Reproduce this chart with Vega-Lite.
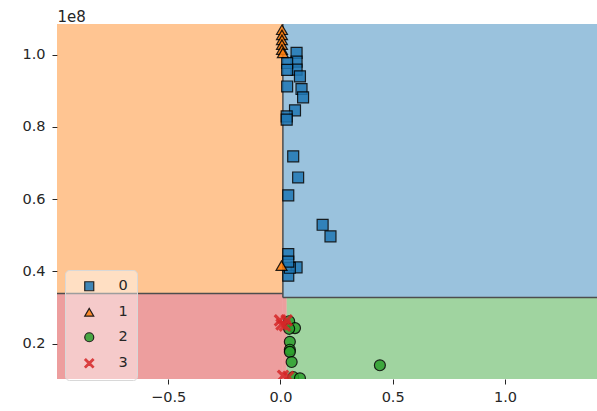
{
  "$schema": "https://vega.github.io/schema/vega-lite/v6.json",
  "width": 540,
  "height": 355,
  "autosize": {"type": "none"},
  "padding": {"left": 57, "top": 24, "right": 0, "bottom": 32},
  "config": {
    "view": {"stroke": null},
    "font": "DejaVu Sans",
    "axis": {"labelFont": "DejaVu Sans", "labelFontSize": 14.5, "labelColor": "#262626", "tickColor": "#262626", "tickSize": 5, "domain": false, "grid": false, "labelPadding": 6},
    "legend": {"orient": "none", "legendX": 8, "legendY": 246, "fillColor": "rgba(255,255,255,0.45)", "strokeColor": "#d8d8d8", "cornerRadius": 4, "padding": 9, "symbolOffset": 8, "labelOffset": 22, "rowPadding": 10, "symbolSize": 81, "symbolStrokeWidth": 1.2, "symbolOpacity": 0.85, "labelFont": "DejaVu Sans", "labelFontSize": 14.5, "labelColor": "#262626"}
  },
  "datasets": {
    "regions": [
      {"region": "1", "x1": -0.995, "x2": 0.011, "y1": 33900000, "y2": 108500000},
      {"region": "3", "x1": -0.995, "x2": 0.011, "y1": 10200000, "y2": 33900000},
      {"region": "3", "x1": 0.011, "x2": 0.028, "y1": 10200000, "y2": 32800000},
      {"region": "0", "x1": 0.011, "x2": 1.41, "y1": 32800000, "y2": 108500000},
      {"region": "2", "x1": 0.028, "x2": 1.41, "y1": 10200000, "y2": 32800000}
    ],
    "edges": [
      {"x1": 0.011, "x2": 0.011, "y1": 32800000, "y2": 108500000},
      {"x1": -0.995, "x2": 0.011, "y1": 33900000, "y2": 33900000},
      {"x1": 0.011, "x2": 1.41, "y1": 32800000, "y2": 32800000}
    ],
    "points": [
      {"x": 0.072, "y": 100500000, "class": "0"},
      {"x": 0.072, "y": 98100000, "class": "0"},
      {"x": 0.072, "y": 95850000, "class": "0"},
      {"x": 0.030, "y": 97700000, "class": "0"},
      {"x": 0.030, "y": 95800000, "class": "0"},
      {"x": 0.087, "y": 94000000, "class": "0"},
      {"x": 0.030, "y": 91200000, "class": "0"},
      {"x": 0.094, "y": 90500000, "class": "0"},
      {"x": 0.101, "y": 88200000, "class": "0"},
      {"x": 0.065, "y": 84600000, "class": "0"},
      {"x": 0.028, "y": 82900000, "class": "0"},
      {"x": 0.028, "y": 82000000, "class": "0"},
      {"x": 0.057, "y": 71850000, "class": "0"},
      {"x": 0.079, "y": 66000000, "class": "0"},
      {"x": 0.035, "y": 61050000, "class": "0"},
      {"x": 0.188, "y": 52900000, "class": "0"},
      {"x": 0.223, "y": 49700000, "class": "0"},
      {"x": 0.035, "y": 44800000, "class": "0"},
      {"x": 0.072, "y": 41100000, "class": "0"},
      {"x": 0.035, "y": 38800000, "class": "0"},
      {"x": 0.042, "y": 41000000, "class": "0"},
      {"x": 0.035, "y": 42700000, "class": "0"},
      {"x": 0.007, "y": 106900000, "class": "1"},
      {"x": 0.007, "y": 105500000, "class": "1"},
      {"x": 0.007, "y": 104100000, "class": "1"},
      {"x": 0.007, "y": 102800000, "class": "1"},
      {"x": 0.007, "y": 101400000, "class": "1"},
      {"x": 0.011, "y": 100500000, "class": "1"},
      {"x": 0.005, "y": 41600000, "class": "1"},
      {"x": 0.039, "y": 26200000, "class": "2"},
      {"x": 0.065, "y": 24300000, "class": "2"},
      {"x": 0.039, "y": 24100000, "class": "2"},
      {"x": 0.042, "y": 20500000, "class": "2"},
      {"x": 0.042, "y": 18300000, "class": "2"},
      {"x": 0.042, "y": 17700000, "class": "2"},
      {"x": 0.050, "y": 14900000, "class": "2"},
      {"x": 0.443, "y": 14000000, "class": "2"},
      {"x": 0.057, "y": 10700000, "class": "2"},
      {"x": 0.087, "y": 10400000, "class": "2"},
      {"x": -0.002, "y": 26450000, "class": "3"},
      {"x": 0.005, "y": 25300000, "class": "3"},
      {"x": 0.028, "y": 26450000, "class": "3"},
      {"x": 0.020, "y": 25000000, "class": "3"},
      {"x": 0.012, "y": 11100000, "class": "3"},
      {"x": 0.035, "y": 10800000, "class": "3"}
    ]
  },
  "layer": [
    {
      "data": {"name": "regions"},
      "mark": {"type": "rect", "opacity": 0.45},
      "encoding": {
        "x": {"field": "x1", "type": "quantitative", "scale": {"domain": [-0.995, 1.41], "nice": false, "zero": false}, "axis": {"values": [-0.5, 0, 0.5, 1.0], "format": ".1f", "title": null}},
        "x2": {"field": "x2"},
        "y": {"field": "y1", "type": "quantitative", "scale": {"domain": [10200000, 108500000], "nice": false, "zero": false}, "axis": {"values": [20000000, 40000000, 60000000, 80000000, 100000000], "labelExpr": "format(datum.value/1e8, '.1f')", "labelPadding": 7, "title": "1e8", "titleAngle": 0, "titleX": 0, "titleY": -3, "titleAlign": "left", "titleBaseline": "alphabetic", "titleFont": "DejaVu Sans", "titleFontSize": 15, "titleFontWeight": "normal", "titleColor": "#262626"}},
        "y2": {"field": "y2"},
        "color": {"field": "region", "type": "nominal", "scale": {"domain": ["0", "1", "2", "3"], "range": ["#1f77b4", "#ff7f0e", "#2ca02c", "#d62728"]}, "legend": null}
      }
    },
    {
      "data": {"name": "edges"},
      "mark": {"type": "rule", "color": "#4d4d4d", "strokeWidth": 1.5},
      "encoding": {
        "x": {"field": "x1", "type": "quantitative"},
        "x2": {"field": "x2"},
        "y": {"field": "y1", "type": "quantitative"},
        "y2": {"field": "y2"}
      }
    },
    {
      "data": {"name": "points"},
      "mark": {"type": "point", "filled": true, "size": 120, "strokeWidth": 1.2, "opacity": 0.85, "clip": true},
      "encoding": {
        "x": {"field": "x", "type": "quantitative"},
        "y": {"field": "y", "type": "quantitative"},
        "shape": {"field": "class", "type": "nominal", "title": null, "scale": {"domain": ["0", "1", "2", "3"], "range": ["square", "triangle-up", "circle", "M-1,-0.75L-0.75,-1L0,-0.25L0.75,-1L1,-0.75L0.25,0L1,0.75L0.75,1L0,0.25L-0.75,1L-1,0.75L-0.25,0Z"]}},
        "fill": {"field": "class", "type": "nominal", "title": null, "scale": {"domain": ["0", "1", "2", "3"], "range": ["#1f77b4", "#ff7f0e", "#2ca02c", "#d62728"]}},
        "stroke": {"field": "class", "type": "nominal", "title": null, "scale": {"domain": ["0", "1", "2", "3"], "range": ["#000000", "#000000", "#000000", "#d62728"]}}
      }
    }
  ],
  "resolve": {"scale": {"color": "independent"}}
}
